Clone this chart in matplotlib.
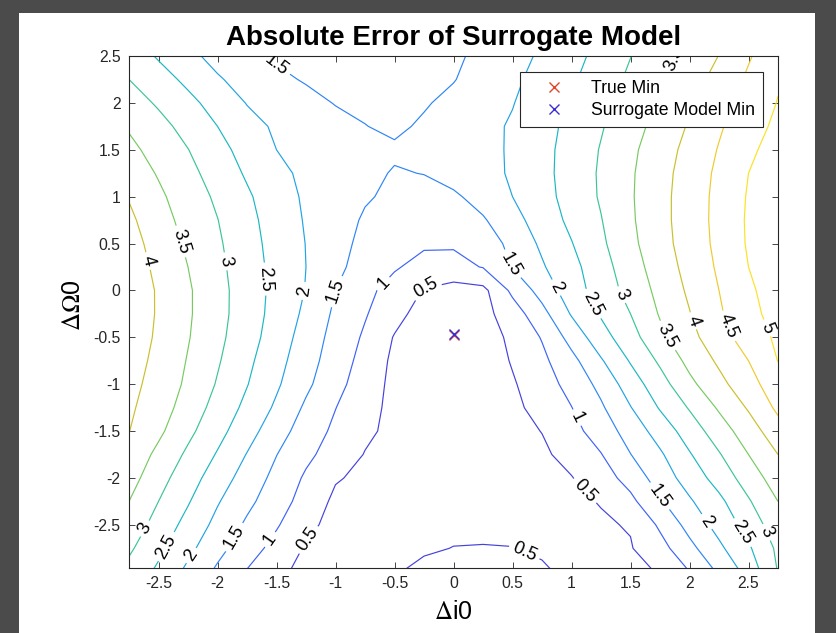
import matplotlib
matplotlib.use('Agg')
import matplotlib.pyplot as plt
import numpy as np
from matplotlib.colors import LinearSegmentedColormap, Normalize
from matplotlib.patches import Rectangle

plt.rcParams['font.family'] = ['Liberation Sans', 'DejaVu Sans']
plt.rcParams['mathtext.fontset'] = 'stix'
plt.rcParams['axes.unicode_minus'] = False

# grid of the error surface
di0 = [-2.75, -2.5, -2.25, -2.0, -1.75, -1.5, -1.25, -1.0, -0.75, -0.5, -0.25, 0.0,
       0.25, 0.5, 0.75, 1.0, 1.25, 1.5, 1.75, 2.0, 2.25, 2.5, 2.75]
dOmega0 = [2.5, 2.25, 2.0, 1.75, 1.5, 1.25, 1.0, 0.75, 0.5, 0.25, 0.0, -0.25, -0.5,
           -0.75, -1.0, -1.25, -1.5, -1.75, -2.0, -2.25, -2.5, -2.75, -3.0]
abs_err = [
    [2.78, 2.45, 2.12, 1.85, 1.61, 1.44, 1.37, 1.31, 1.28, 1.30, 1.35, 1.43, 1.60, 1.83, 2.07, 2.34, 2.65, 2.99, 3.32, 3.66, 4.01, 4.45, 4.85],
    [3.00, 2.70, 2.39, 2.05, 1.82, 1.60, 1.46, 1.38, 1.34, 1.36, 1.41, 1.48, 1.69, 1.91, 2.16, 2.43, 2.76, 3.09, 3.43, 3.79, 4.17, 4.58, 4.95],
    [3.22, 2.94, 2.63, 2.31, 1.98, 1.81, 1.64, 1.48, 1.42, 1.42, 1.46, 1.61, 1.80, 1.98, 2.25, 2.53, 2.86, 3.20, 3.55, 3.92, 4.31, 4.68, 5.02],
    [3.45, 3.15, 2.84, 2.50, 2.17, 1.93, 1.79, 1.64, 1.51, 1.42, 1.56, 1.72, 1.87, 2.05, 2.33, 2.63, 2.96, 3.31, 3.67, 4.05, 4.44, 4.80, 5.10],
    [3.62, 3.32, 3.01, 2.66, 2.32, 2.00, 1.84, 1.70, 1.58, 1.56, 1.56, 1.66, 1.83, 2.07, 2.36, 2.68, 3.03, 3.40, 3.77, 4.15, 4.53, 4.92, 5.17],
    [3.78, 3.46, 3.14, 2.79, 2.44, 2.12, 1.90, 1.75, 1.60, 1.47, 1.51, 1.69, 1.86, 2.05, 2.36, 2.70, 3.06, 3.44, 3.83, 4.21, 4.60, 5.00, 5.22],
    [3.97, 3.59, 3.25, 2.92, 2.57, 2.22, 1.93, 1.73, 1.54, 1.42, 1.35, 1.42, 1.69, 2.00, 2.33, 2.68, 3.05, 3.45, 3.85, 4.24, 4.63, 5.04, 5.26],
    [4.10, 3.70, 3.33, 3.01, 2.64, 2.28, 1.96, 1.69, 1.45, 1.28, 1.20, 1.22, 1.45, 1.83, 2.23, 2.61, 2.98, 3.43, 3.85, 4.24, 4.64, 5.06, 5.28],
    [4.20, 3.80, 3.42, 3.07, 2.69, 2.32, 1.99, 1.66, 1.38, 1.20, 1.07, 1.05, 1.16, 1.67, 2.08, 2.48, 2.91, 3.38, 3.82, 4.22, 4.62, 5.05, 5.28],
    [4.28, 3.88, 3.50, 3.12, 2.73, 2.35, 2.00, 1.61, 1.31, 1.05, 0.83, 0.86, 1.02, 1.52, 1.95, 2.35, 2.80, 3.28, 3.74, 4.16, 4.57, 5.00, 5.25],
    [4.32, 3.95, 3.56, 3.16, 2.76, 2.36, 1.98, 1.50, 1.13, 0.81, 0.47, 0.30, 0.37, 1.11, 1.69, 2.27, 2.72, 3.17, 3.64, 4.08, 4.50, 4.93, 5.20],
    [4.33, 3.95, 3.56, 3.16, 2.75, 2.33, 1.90, 1.41, 1.04, 0.66, 0.30, 0.12, 0.35, 0.75, 1.34, 2.04, 2.55, 3.00, 3.54, 3.98, 4.43, 4.88, 5.15],
    [4.30, 3.92, 3.53, 3.12, 2.70, 2.27, 1.79, 1.33, 0.93, 0.47, 0.20, 0.02, 0.20, 0.63, 1.03, 1.68, 2.30, 2.81, 3.38, 3.86, 4.28, 4.75, 5.08],
    [4.22, 3.87, 3.47, 3.05, 2.61, 2.17, 1.70, 1.26, 0.83, 0.40, 0.15, 0.05, 0.20, 0.54, 0.89, 1.35, 1.95, 2.54, 3.08, 3.64, 4.08, 4.50, 5.01],
    [4.15, 3.81, 3.41, 2.96, 2.52, 2.07, 1.60, 1.16, 0.74, 0.38, 0.18, 0.10, 0.18, 0.45, 0.78, 1.16, 1.64, 2.25, 2.80, 3.38, 3.86, 4.31, 4.80],
    [4.08, 3.73, 3.29, 2.82, 2.38, 1.92, 1.42, 1.01, 0.66, 0.38, 0.22, 0.15, 0.22, 0.40, 0.65, 0.99, 1.43, 1.98, 2.54, 3.04, 3.56, 4.05, 4.60],
    [4.01, 3.60, 3.12, 2.66, 2.20, 1.71, 1.27, 0.90, 0.59, 0.38, 0.25, 0.20, 0.25, 0.36, 0.51, 0.84, 1.23, 1.71, 2.21, 2.73, 3.26, 3.76, 4.30],
    [3.85, 3.38, 2.91, 2.46, 1.98, 1.51, 1.11, 0.78, 0.48, 0.36, 0.30, 0.27, 0.30, 0.37, 0.42, 0.66, 0.98, 1.49, 1.93, 2.46, 2.96, 3.50, 4.00],
    [3.70, 3.18, 2.72, 2.25, 1.79, 1.36, 0.93, 0.54, 0.40, 0.38, 0.35, 0.35, 0.36, 0.38, 0.40, 0.48, 0.78, 1.18, 1.74, 2.21, 2.70, 3.23, 3.75],
    [3.50, 3.00, 2.54, 2.04, 1.62, 1.22, 0.81, 0.40, 0.37, 0.38, 0.40, 0.41, 0.42, 0.41, 0.40, 0.42, 0.52, 0.88, 1.44, 1.94, 2.38, 2.95, 3.50],
    [3.30, 2.81, 2.34, 1.86, 1.42, 1.05, 0.61, 0.36, 0.36, 0.40, 0.43, 0.45, 0.45, 0.44, 0.43, 0.42, 0.45, 0.53, 1.08, 1.67, 2.17, 2.69, 3.30],
    [3.08, 2.62, 2.13, 1.65, 1.23, 0.83, 0.45, 0.36, 0.40, 0.44, 0.47, 0.505, 0.51, 0.505, 0.47, 0.44, 0.44, 0.47, 0.82, 1.36, 1.90, 2.43, 3.10],
    [2.85, 2.40, 1.88, 1.41, 0.97, 0.58, 0.40, 0.35, 0.40, 0.48, 0.56, 0.62, 0.64, 0.60, 0.53, 0.45, 0.40, 0.42, 0.52, 1.00, 1.57, 2.17, 3.02],
]
contour_levels = [0.5, 1.0, 1.5, 2.0, 2.5, 3.0, 3.5, 4.0, 4.5, 5.0]

true_min = (0.0, -0.47)
surrogate_min = (0.0, -0.46)

x_ticks = [-2.5, -2, -1.5, -1, -0.5, 0, 0.5, 1, 1.5, 2, 2.5]
y_ticks = [-2.5, -2, -1.5, -1, -0.5, 0, 0.5, 1, 1.5, 2, 2.5]

# where the reference put the inline contour labels
label_spots = [(-2.34, 0.51), (-2.60, 0.31), (-1.93, 0.31), (-1.61, 0.12), (-1.25, -0.01),
               (-0.96, -0.02), (-0.61, 0.09), (-0.23, -0.01), (0.48, 0.27), (0.87, 0.03),
               (1.14, -0.17), (1.40, -0.06), (1.80, -0.49), (2.02, -0.33), (2.31, -0.39),
               (2.58, -0.44), (1.04, -1.36), (1.12, -2.13), (1.74, -2.2), (2.14, -2.47),
               (2.44, -2.59), (2.67, -2.57), (-2.6, -2.55), (-2.42, -2.74), (-2.23, -2.82),
               (-1.86, -2.63), (-1.55, -2.66), (-1.25, -2.64), (0.59, -2.82), (-1.53, 2.36),
               (1.91, 2.45)]

# MATLAB parula (original), every 8th entry
parula = LinearSegmentedColormap.from_list('parula', [
    (0.2422, 0.1504, 0.6603), (0.2813, 0.3006, 0.9414), (0.1963, 0.4847, 0.9892),
    (0.1248, 0.6459, 0.8883), (0.0964, 0.7500, 0.7120), (0.3909, 0.8029, 0.4354),
    (0.8203, 0.7498, 0.1535), (0.9892, 0.8136, 0.1885), (0.9769, 0.9839, 0.0805)])

fig = plt.figure(figsize=(8.36, 6.33), dpi=100, facecolor='#4b4b4b')
fig.add_artist(Rectangle((19 / 836, 0), (815 - 19) / 836, (633 - 13) / 633,
                         transform=fig.transFigure, facecolor='white', edgecolor='none', zorder=0))
ax = fig.add_axes([129 / 836, (633 - 568) / 633, (778 - 129) / 836, (568 - 56) / 633])

X, Y = np.meshgrid(di0, dOmega0)
Z = np.array(abs_err)
cs = ax.contour(X, Y, Z, levels=contour_levels, cmap=parula, norm=Normalize(0, 5.4),
                linewidths=0.85)
ax.clabel(cs, manual=label_spots, inline=True, fontsize=13, fmt='%g', colors='k',
          inline_spacing=4)

ax.plot(*true_min, 'x', color='#e0462a', markersize=7, mew=1.0, label='True Min')
ax.plot(*surrogate_min, 'x', color='#3a2fd0', markersize=7, mew=1.0, label='Surrogate Model Min')

ax.set_xlim(-2.75, 2.75)
ax.set_ylim(-2.96, 2.5)
ax.set_xticks(x_ticks)
ax.set_yticks(y_ticks)
ax.set_xticklabels(['%g' % t for t in x_ticks])
ax.set_yticklabels(['%g' % t for t in y_ticks])
ax.tick_params(direction='in', top=True, right=True, length=4.5, width=0.6,
               labelsize=11.3, colors='#262626', pad=6)
for s in ax.spines.values():
    s.set_linewidth(0.8)
    s.set_color('#262626')

ax.set_title('Absolute Error of Surrogate Model', fontsize=20, fontweight='bold', pad=8)
ax.set_xlabel(r'$\Delta$i0', fontsize=18, labelpad=6)
ax.set_ylabel(r'$\Delta\Omega$0', fontsize=18)
ax.yaxis.set_label_coords(-0.068, 0.514)

leg = ax.legend(loc='upper right', bbox_to_anchor=((763 - 129) / 649, (568 - 72) / 512),
                borderaxespad=0, fontsize=12.7, fancybox=False, framealpha=1,
                edgecolor='#262626', handlelength=3.0, handletextpad=0.6,
                borderpad=0.44, labelspacing=0.32)
leg.get_frame().set_linewidth(0.8)

fig.savefig('out.png', dpi=100, facecolor=fig.get_facecolor())
